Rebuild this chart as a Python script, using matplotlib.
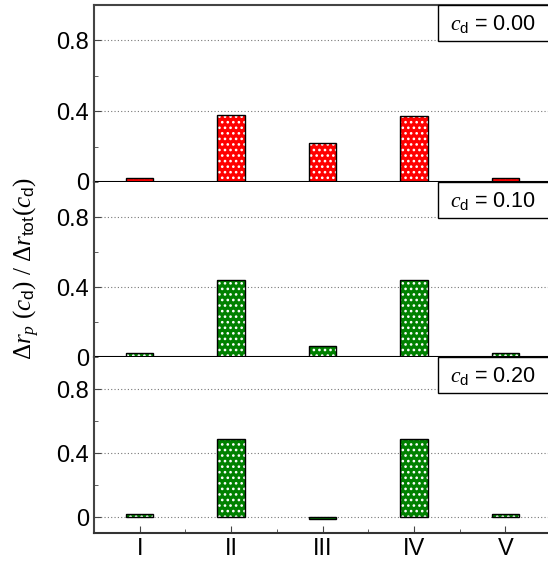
import matplotlib
matplotlib.use("Agg")
import matplotlib.pyplot as plt
from matplotlib.patches import Rectangle
from matplotlib.ticker import MultipleLocator

plt.rcParams['font.family'] = ['Liberation Sans', 'DejaVu Sans']
plt.rcParams['mathtext.fontset'] = 'custom'
plt.rcParams['mathtext.rm'] = 'Liberation Serif'
plt.rcParams['mathtext.sf'] = 'Liberation Sans'
plt.rcParams['mathtext.it'] = 'Liberation Serif:italic'
plt.rcParams['mathtext.bf'] = 'Liberation Serif:bold'
plt.rcParams['hatch.linewidth'] = 1.1

labels = ["I", "II", "III", "IV", "V"]
pos = [1, 2, 3, 4, 5]
cd_vals = ["0.00", "0.10", "0.20"]
ratio_000 = [0.025, 0.377, 0.221, 0.375, 0.025]
ratio_010 = [0.025, 0.442, 0.061, 0.442, 0.025]
ratio_020 = [0.017, 0.490, -0.015, 0.490, 0.017]
series = [ratio_000, ratio_010, ratio_020]
colors = ["#ff0000", "#008000", "#008000"]
ylims = [(0, 1.0), (0, 1.0), (-0.1, 1.0)]

W, H = 548, 561
fig = plt.figure(figsize=(W / 100, H / 100), dpi=100)

# panel edges in pixels (top -> bottom)
left, right = 94, 551
edges = [5, 182, 357, 533]

for i in range(3):
    top, bot = edges[i], edges[i + 1]
    ax = fig.add_axes([left / W, 1 - bot / H, (right - left) / W, (bot - top) / H])
    vals = series[i]
    # hatched fill (white dots) then black outline
    ax.bar(pos, vals, width=0.3, color=colors[i], edgecolor="white",
           hatch="...", linewidth=0, zorder=3)
    ax.bar(pos, vals, width=0.3, fill=False, edgecolor="black",
           linewidth=1.0, zorder=4)
    ax.set_xlim(0.5, 5.5)
    ax.set_ylim(*ylims[i])
    ax.set_yticks([0, 0.4, 0.8])
    ax.set_yticklabels(["0", "0.4", "0.8"])
    ax.yaxis.set_minor_locator(MultipleLocator(0.2))
    ax.set_xticks(pos)
    ax.xaxis.set_minor_locator(MultipleLocator(0.5))
    ax.tick_params(axis="both", which="both", direction="in", labelsize=17,
                   top=False, right=False, color="#444444")
    ax.tick_params(axis="both", which="major", length=5)
    ax.tick_params(axis="both", which="minor", length=3)
    ax.grid(axis="y", which="major", linestyle=(0, (1, 2)), color="#777777",
            linewidth=0.8, zorder=0)
    for s in ["left", "top"]:
        ax.spines[s].set_color("#444444")
        ax.spines[s].set_linewidth(1.5)
    ax.spines["right"].set_visible(False)
    ax.spines["bottom"].set_color("black")
    ax.spines["bottom"].set_linewidth(1.5)
    ax.spines["bottom"].set_zorder(5)
    if i < 2:
        ax.set_xticklabels([])
        ax.tick_params(axis="x", which="both", length=0)
    else:
        ax.set_xticklabels(labels)
        ax.spines["bottom"].set_color("#333333")
    if i > 0:
        ax.spines["top"].set_visible(False)

    h = bot - top
    ax.add_patch(Rectangle(((438 - left) / (right - left), 1 - 36 / h),
                           0.5, 36 / h, transform=ax.transAxes,
                           facecolor="white", edgecolor="black",
                           linewidth=1.0, clip_on=False, zorder=6))
    ax.text((450 - left) / (right - left), 1 - 19 / h,
            r"$c_{\mathsf{d}}$ = " + cd_vals[i], transform=ax.transAxes,
            fontsize=15.5, va="center", ha="left", zorder=7)

fig.text(27 / W, 1 - 268 / H,
         r"$\Delta r_{p}\ (c_{\mathsf{d}})\ /\ \Delta r_{\mathsf{tot}}(c_{\mathsf{d}})$",
         rotation=90, fontsize=18, va="center", ha="center")

fig.savefig("out.png", dpi=100)
